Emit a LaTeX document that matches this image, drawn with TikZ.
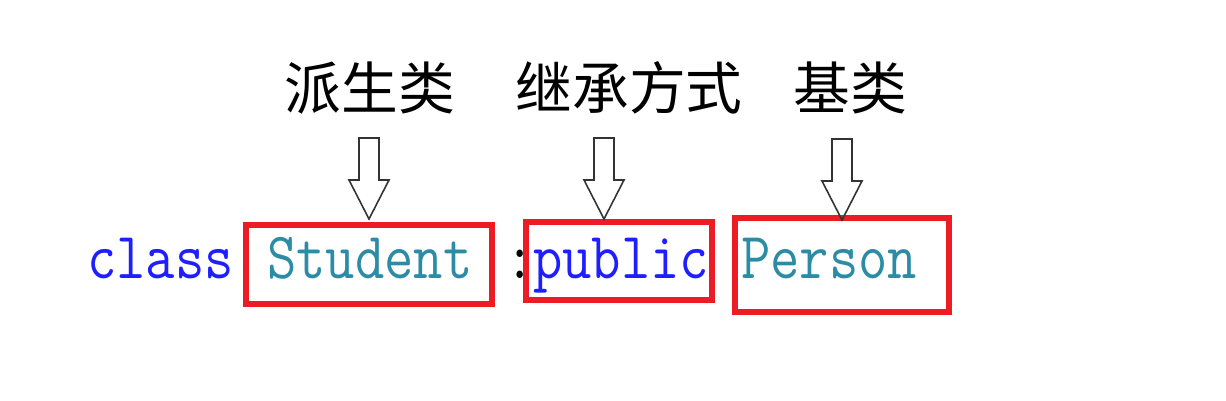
\documentclass[tikz,border=0pt]{standalone}
\usepackage{fontspec}
\newfontfamily\cjk{Noto Sans CJK SC}
\usetikzlibrary{fit}
\definecolor{codeblue}{RGB}{30,30,255}
\definecolor{typeteal}{RGB}{45,140,165}
\definecolor{markred}{RGB}{237,28,36}
\newcommand\codefont{\ttfamily\fontsize{32.4}{38}\selectfont}
\newcommand\tall[1]{\scalebox{1}[1.16]{#1}}

\begin{document}
\begin{tikzpicture}[x=0.02cm, y=-0.02cm,
  cnlabel/.style={font=\cjk\fontsize{32.3}{38}\selectfont, anchor=base, inner sep=0},
  code/.style={font=\codefont, anchor=base west, inner sep=0},
  redbox/.style={draw=markred, line width=3.4pt, inner sep=0},
  hollow/.pic={\draw[line width=0.9pt, black!80] (0,0) -- (-20,-39) -- (-10,-39) -- (-10,-81) -- (10,-81) -- (10,-39) -- (20,-39) -- cycle;}]
\useasboundingbox (0,0) rectangle (1226,400);

% labels
\node[cnlabel] (derived) at (370,109) {派生类};
\node[cnlabel] (mode) at (629,109) {继承方式};
\node[cnlabel] (base) at (850,109) {基类};

% code line
\node[code, text=codeblue] (kwclass) at (87,278) {\tall{class}};
\node[code, text=typeteal] (student) at (267,278) {\tall{Student}};
\node[code] (colon) at (505,278) {\tall{:}};
\node[code, text=codeblue] (public) at (533,278) {\tall{public}};
\node[code, text=typeteal] (person) at (741,278) {\tall{Person}};

% boxes
\node[redbox, fit={(246,225) (492,304)}] (studentbox) {};
\node[redbox, fit={(526,222) (712,300)}] (publicbox) {};
\node[redbox, fit={(735,218) (949,312)}] (personbox) {};

% arrows
\coordinate (tip1) at (369,219);
\coordinate (tip2) at (604,219);
\coordinate (tip3) at (842,220);
\pic at (tip1) {hollow};
\pic at (tip2) {hollow};
\pic at (tip3) {hollow};
\end{tikzpicture}
\end{document}
